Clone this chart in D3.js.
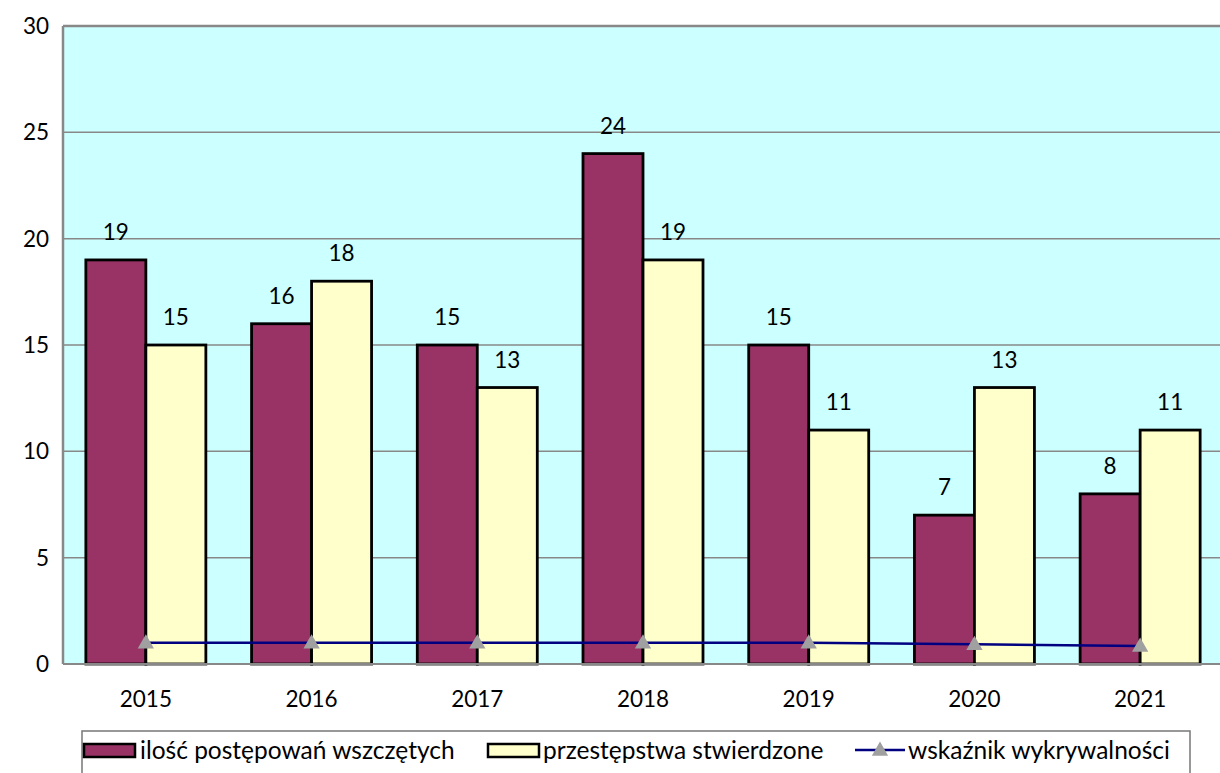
<!DOCTYPE html>
<html><head><meta charset="utf-8">
<script src="https://cdn.jsdelivr.net/npm/d3@7/dist/d3.min.js"></script>
<style>body{margin:0;background:#fff}svg{display:block}text{font-family:Lato,"Open Sans",sans-serif;fill:#000}</style>
</head><body><svg id="c" width="1220" height="773"></svg>
<script>
const years = ["2015","2016","2017","2018","2019","2020","2021"];
const wszczete = [19,16,15,24,15,7,8];
const stwierdzone = [15,18,13,19,11,13,11];
const wskaznik = [1.0,1.0,1.0,1.0,1.0,0.93,0.85];
const yTicks = [0,5,10,15,20,25,30];
const seriesNames = ["ilość postępowań wszczętych","przestępstwa stwierdzone","wskaźnik wykrywalności"];

const svg = d3.select("#c");
const L=63, R=1223, T=26, B=664;
const x = d3.scaleBand().domain(years).range([L,R]).paddingInner(0).paddingOuter(0);
const y = d3.scaleLinear().domain([0,30]).range([B,T]);
const bw = 60;

svg.append("rect").attr("x",L).attr("y",T).attr("width",R-L).attr("height",B-T).attr("fill","#CCFFFF");
svg.append("g").selectAll("line").data(yTicks.filter(d=>d>0&&d<30)).join("line")
  .attr("x1",L).attr("x2",R).attr("y1",d=>y(d)).attr("y2",d=>y(d)).attr("stroke","#888").attr("stroke-width",1.5);
svg.append("line").attr("x1",L).attr("x2",R).attr("y1",T).attr("y2",T).attr("stroke","#888").attr("stroke-width",2.5);
svg.append("line").attr("x1",L).attr("x2",L).attr("y1",T).attr("y2",B).attr("stroke","#888").attr("stroke-width",2.5);

const cx = d=>x(d)+x.bandwidth()/2;
const g = svg.append("g");
g.selectAll(".b1").data(years).join("rect")
  .attr("x",(d)=>cx(d)-bw).attr("y",(d,i)=>y(wszczete[i])).attr("width",bw).attr("height",(d,i)=>B-y(wszczete[i]))
  .attr("fill","#993366").attr("stroke","#000").attr("stroke-width",2.8);
g.selectAll(".b2").data(years).join("rect")
  .attr("x",(d)=>cx(d)).attr("y",(d,i)=>y(stwierdzone[i])).attr("width",bw).attr("height",(d,i)=>B-y(stwierdzone[i]))
  .attr("fill","#FFFFCC").attr("stroke","#000").attr("stroke-width",2.8);

svg.append("line").attr("x1",L).attr("x2",R).attr("y1",B).attr("y2",B).attr("stroke","#888").attr("stroke-width",2);

svg.append("g").selectAll("text").data(years).join("text")
  .attr("x",d=>cx(d)-bw/2).attr("y",(d,i)=>y(wszczete[i])-20).attr("text-anchor","middle").attr("font-size",22.5)
  .text((d,i)=>wszczete[i]);
svg.append("g").selectAll("text").data(years).join("text")
  .attr("x",d=>cx(d)+bw/2).attr("y",(d,i)=>y(stwierdzone[i])-20).attr("text-anchor","middle").attr("font-size",22.5)
  .text((d,i)=>stwierdzone[i]);

const line = d3.line().x((d,i)=>cx(years[i])).y(d=>y(d));
svg.append("path").attr("d",line(wskaznik)).attr("fill","none").attr("stroke","#000080").attr("stroke-width",2.5);
const tri = d3.symbol().type(d3.symbolTriangle).size(115);
svg.append("g").selectAll("path").data(wskaznik).join("path")
  .attr("transform",(d,i)=>`translate(${cx(years[i])},${y(d)+1})`).attr("d",tri).attr("fill","#A0A0A0");

svg.append("g").selectAll("text").data(yTicks).join("text")
  .attr("x",49).attr("y",d=>y(d)+8).attr("text-anchor","end").attr("font-size",22.5).text(d=>d);
svg.append("g").selectAll("text").data(years).join("text")
  .attr("x",d=>cx(d)).attr("y",707).attr("text-anchor","middle").attr("font-size",22.5).text(d=>d);

svg.append("rect").attr("x",82).attr("y",731).attr("width",1108).attr("height",50).attr("fill","#fff").attr("stroke","#777").attr("stroke-width",1.5);
svg.append("rect").attr("x",84).attr("y",744).attr("width",51).attr("height",13).attr("fill","#993366").attr("stroke","#000").attr("stroke-width",2.5);
svg.append("text").attr("x",140).attr("y",759).attr("font-size",24.5).text(seriesNames[0]);
svg.append("rect").attr("x",488).attr("y",744).attr("width",51).attr("height",13).attr("fill","#FFFFCC").attr("stroke","#000").attr("stroke-width",2.5);
svg.append("text").attr("x",543).attr("y",759).attr("font-size",24.5).text(seriesNames[1]);
svg.append("line").attr("x1",855).attr("x2",905).attr("y1",750).attr("y2",750).attr("stroke","#000080").attr("stroke-width",2.5);
svg.append("path").attr("transform","translate(880,751)").attr("d",tri).attr("fill","#A0A0A0");
svg.append("text").attr("x",908).attr("y",759).attr("font-size",24.5).text(seriesNames[2]);
</script></body></html>
